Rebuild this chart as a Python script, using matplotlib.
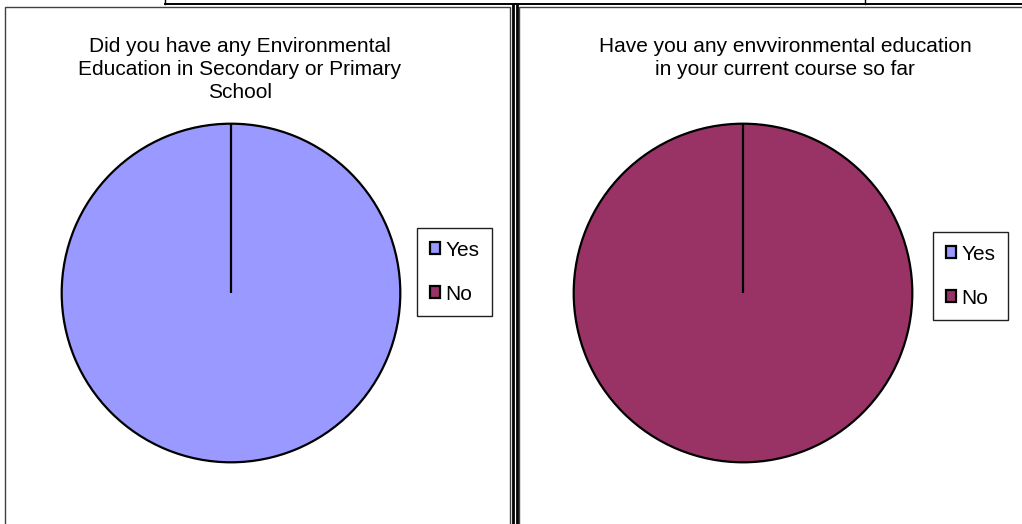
import matplotlib.pyplot as plt
from matplotlib.lines import Line2D
from matplotlib.patches import Rectangle

plt.rcParams['font.family'] = ['Liberation Sans', 'DejaVu Sans']

W, H = 1022, 524

# Respuestas de la encuesta (porcentaje)
categorias = ["Yes", "No"]
colores = ["#9999FF", "#993366"]
escuela = [100, 0]
curso = [0, 100]

titulo_escuela = "Did you have any Environmental\nEducation in Secondary or Primary\nSchool"
titulo_curso = "Have you any envvironmental education\nin your current course so far"


def px(x, y):
    # pixeles (origen arriba-izquierda) -> coordenadas de figura
    return x / W, 1 - y / H


fig = plt.figure(figsize=(W / 100, H / 100), dpi=100)
fig.patch.set_facecolor("white")

# Marcos de los dos paneles
for x0, x1 in [(5, 510), (519, 1030)]:
    fx0, fy0 = px(x0, 540)
    fx1, fy1 = px(x1, 7)
    fig.add_artist(Rectangle((fx0, fy0), fx1 - fx0, fy1 - fy0, transform=fig.transFigure,
                             facecolor="none", edgecolor="#404040", linewidth=1.0))

# Bordes de la tabla alrededor de los graficos
def linea(xs, ys, lw):
    pts = [px(x, y) for x, y in zip(xs, ys)]
    fig.add_artist(Line2D([p[0] for p in pts], [p[1] for p in pts],
                          transform=fig.transFigure, color="black", linewidth=lw))

linea([165, 1022], [4, 4], 1.4)
linea([165, 165], [0, 4], 1.0)
linea([865, 865], [0, 4], 1.0)
linea([513, 513], [4, 524], 2.0)
linea([517, 517], [4, 524], 2.0)


def grafico(cx, cy, r, valores, titulo, tx, leg_xy):
    x0, y0 = px(cx - r, cy + r)
    ax = fig.add_axes([x0, y0, 2 * r / W, 2 * r / H])
    wedges, _ = ax.pie(valores, colors=colores, startangle=90, counterclock=False,
                       radius=1, wedgeprops=dict(edgecolor="black", linewidth=1.6))
    # las porciones vacias quedan como una linea radial encima
    for w, v in zip(wedges, valores):
        if v == 0:
            w.set_zorder(3)
    ax.set_xlim(-1.01, 1.01)
    ax.set_ylim(-1.01, 1.01)
    ax.set_aspect("equal")
    ax.axis("off")

    fx, fy = px(tx, 37)
    fig.text(fx, fy, titulo, ha="center", va="top", fontsize=15, linespacing=1.25)

    lx, ly = px(*leg_xy)
    leg = fig.legend(wedges, categorias, loc="upper left", bbox_to_anchor=(lx, ly),
                     bbox_transform=fig.transFigure, borderaxespad=0, fontsize=15,
                     fancybox=False, frameon=True, framealpha=1, edgecolor="#202020",
                     handlelength=0.5, handleheight=0.5, handletextpad=0.25,
                     labelspacing=1.2, borderpad=0.6)
    leg.get_frame().set_linewidth(1.0)


grafico(231, 293, 171, escuela, titulo_escuela, 240, (417, 228))
grafico(743, 293, 171, curso, titulo_curso, 785, (933, 232))

fig.savefig("out.png", dpi=100)
